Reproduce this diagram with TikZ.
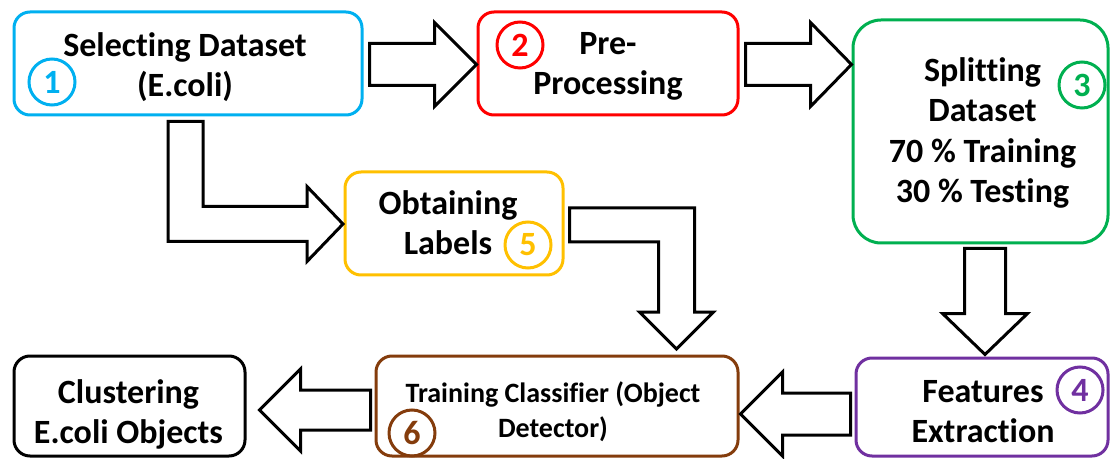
\documentclass[tikz,border=0pt]{standalone}
\usepackage{fontspec}
\setmainfont{Carlito}[Ligatures={NoCommon,NoContextual}]
\usetikzlibrary{positioning,calc}

\definecolor{stepblue}{HTML}{00B0F0}
\definecolor{stepred}{HTML}{FF0000}
\definecolor{stepgreen}{HTML}{00B050}
\definecolor{stepyellow}{HTML}{FFC000}
\definecolor{steppurple}{HTML}{7030A0}
\definecolor{stepbrown}{HTML}{843C0C}

\begin{document}
\begin{tikzpicture}[x=0.5pt, y=-0.5pt,
    box/.style={rectangle, draw, line width=1.5pt, rounded corners=8pt, inner sep=0pt},
    boxtext/.style={align=center, inner sep=0pt, font=\fontsize{17}{20}\selectfont\bfseries},
    badge/.style={circle, draw, line width=1.5pt, minimum size=23pt, inner sep=0pt,
        font=\fontsize{17}{20}\selectfont\bfseries},
    blockarrow/.style={draw=black, line width=1.5pt, fill=white, line join=miter}]

    \useasboundingbox (0,0) rectangle (1111,459);

    % process boxes
    \node[box, draw=stepblue, minimum width=174pt, minimum height=51.5pt] (sel) at (188,63.5) {};
    \node[box, draw=stepred, minimum width=130pt, minimum height=51.5pt] (pre) at (608,63.5) {};
    \node[box, draw=stepgreen, rounded corners=14pt, minimum width=127.5pt, minimum height=111.5pt] (split) at (980.5,131.5) {};
    \node[box, draw=steppurple, minimum width=126pt, minimum height=49pt] (feat) at (982,407) {};
    \node[box, draw=stepyellow, minimum width=109pt, minimum height=51.5pt] (lab) at (454,223.5) {};
    \node[box, draw=stepbrown, minimum width=181pt, minimum height=50pt] (train) at (557,406) {};
    \node[box, draw=black, minimum width=115.5pt, minimum height=50pt] (clus) at (129.5,406) {};

    % box texts
    \node[boxtext] (seltext) at ($(sel)+(-3,3.5)$) {Selecting Dataset\\(E.coli)};
    \node[boxtext] (pretext) at ($(pre)+(0,3)$) {Pre-\\Processing};
    \node[boxtext, font=\fontsize{17}{20.2}\selectfont\bfseries] (splittext) at ($(split)+(2,1.5)$) {Splitting\\Dataset\\70 \% Training\\30 \% Testing};
    \node[boxtext] (feattext) at ($(feat)+(1,5)$) {Features\\Extraction};
    \node[boxtext] (labtext) at ($(lab)+(-6,-1)$) {Obtaining\\Labels};
    \node[boxtext, font=\fontsize{14}{17.5}\selectfont\bfseries] (traintext) at ($(train)+(-4,6)$) {Training Classifier (Object\\Detector)};
    \node[boxtext] (clustext) at ($(clus)+(-1,8)$) {Clustering\\E.coli Objects};

    % step numbers
    \node[badge, draw=stepblue, text=stepblue] (n1) at (52,82) {1};
    \node[badge, draw=stepred, text=stepred] (n2) at (520,45) {2};
    \node[badge, draw=stepgreen, text=stepgreen] (n3) at (1082,85) {3};
    \node[badge, draw=steppurple, text=steppurple] (n4) at (1080,390) {4};
    \node[badge, draw=stepyellow, text=stepyellow] (n5) at (528,245) {5};
    \node[badge, draw=stepbrown, text=stepbrown] (n6) at (412,433) {6};

    % block arrows
    \draw[blockarrow] (sel.east) ++(6,-20) -- ++(65,0) -- ++(0,-21) -- ++(42,42) -- ++(-42,42) -- ++(0,-21) -- ++(-65,0) -- cycle;
    \draw[blockarrow] (pre.east) ++(6,-20) -- ++(65,0) -- ++(0,-21) -- ++(41,42) -- ++(-41,42) -- ++(0,-21) -- ++(-65,0) -- cycle;
    \draw[blockarrow] (split.south) ++(-16,4) -- ++(0,65) -- ++(-22,0) -- ++(42.5,41) -- ++(42.5,-41) -- ++(-22,0) -- ++(0,-65) -- cycle;
    \draw[blockarrow] (feat.west) ++(-4,-14) -- ++(-68,0) -- ++(0,-21) -- ++(-42,42) -- ++(42,42) -- ++(0,-21) -- ++(68,0) -- cycle;
    \draw[blockarrow] (train.west) ++(-4,-16) -- ++(-70,0) -- ++(0,-21) -- ++(-41,41) -- ++(41,41) -- ++(0,-21) -- ++(70,0) -- cycle;
    \draw[blockarrow] (sel.south) ++(-20,5) -- ++(35,0) -- ++(0,85) -- ++(104,0) -- ++(0,-20) -- ++(36,37.5) -- ++(-36,37.5) -- ++(0,-20) -- ++(-139,0) -- cycle;
    \draw[blockarrow] (lab.east) ++(5,-15.5) -- ++(125,0) -- ++(0,104) -- ++(19,0) -- ++(-37,37) -- ++(-37,-37) -- ++(19,0) -- ++(0,-70) -- ++(-89,0) -- cycle;

\end{tikzpicture}
\end{document}
